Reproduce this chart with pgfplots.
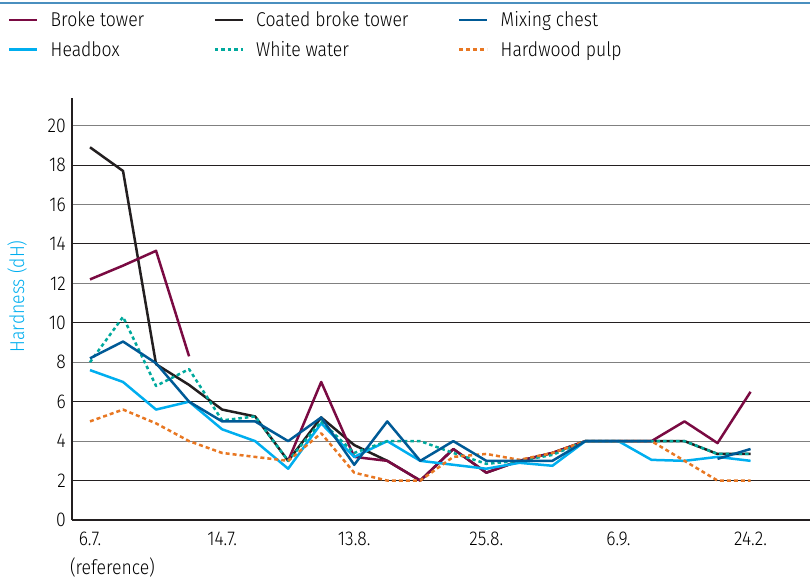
\documentclass[border=0pt]{standalone}
\usepackage{fontspec}
\setmainfont{Fira Sans}[UprightFont=* Light, FakeStretch=0.88]
\usepackage{pgfplots}
\pgfplotsset{compat=1.18}
\definecolor{broke}{HTML}{7A0A42}
\definecolor{coated}{HTML}{231F20}
\definecolor{mixing}{HTML}{005A96}
\definecolor{headbox}{HTML}{00AEEF}
\definecolor{wwater}{HTML}{00A99D}
\definecolor{hardwood}{HTML}{E87722}
\definecolor{topline}{HTML}{4A8FBF}
\definecolor{gridgray}{HTML}{808080}
\begin{document}
\begin{tikzpicture}[font=\fontsize{20bp}{24bp}\selectfont]
\useasboundingbox (0,0) rectangle (810bp,581bp);
\draw[topline, line width=1.8bp] (0,578bp) -- (810bp,578bp);
\begin{axis}[
  at={(72bp,61bp)}, anchor=south west, scale only axis,
  width=738bp, height=422bp,
  xmin=-0.545, xmax=21.8, ymin=0, ymax=21.4,
  axis x line=bottom, axis y line=left,
  axis line style={-, line width=1.2bp, color=coated},
  xtick={0,4,8,12,16,20},
  xticklabels={{6.7.\\\makebox[0pt][l]{\hspace*{-20bp}(reference)}},14.7.,13.8.,25.8.,6.9.,24.2.},
  xticklabel style={align=center, inner sep=0pt, yshift=-12bp, font=\fontsize{20bp}{29bp}\selectfont},
  ytick={0,4,8,12,16,20},
  extra y ticks={2,6,10,14,18},
  extra y tick style={grid=major, major grid style={coated, line width=1bp}},
  ymajorgrids=true,
  major grid style={gridgray, line width=1.2bp},
  yticklabel style={inner sep=0pt, xshift=-6bp},
  major tick length=0pt, tick style={draw=none},
  /pgf/number format/assume math mode=true,
  ylabel={Hardness (dH)},
  ylabel style={color=headbox, at={(axis description cs:-0.0745,0.53)}, anchor=center},
  legend columns=3,
  legend cell align=left,
  legend style={at={(axis description cs:-0.0867,1.205)}, anchor=north west,
    draw=none, fill=none, inner sep=0pt, row sep=13bp,
    nodes={inner sep=0pt},
    /tikz/every odd column/.append style={column sep=12bp}},
  legend image code/.code={\draw[#1] (0bp,0bp) -- (28bp,0bp);},
  every axis plot/.append style={line width=2.5bp, line join=round},
  unbounded coords=jump,
]
\addlegendimage{broke}
\addlegendentry{\makebox[163bp][l]{Broke tower}}
\addlegendimage{coated}
\addlegendentry{\makebox[202bp][l]{Coated broke tower}}
\addlegendimage{mixing}
\addlegendentry{Mixing chest}
\addlegendimage{headbox}
\addlegendentry{Headbox}
\addlegendimage{wwater, dash pattern=on 3.5bp off 3bp}
\addlegendentry{White water}
\addlegendimage{hardwood, dash pattern=on 4bp off 3bp}
\addlegendentry{Hardwood pulp}

% Coated broke tower
\addplot[coated, forget plot] coordinates {
(0,18.9) (1,17.7) (2,7.9) (3,6.85) (4,5.6) (5,5.25) (6,3.0) (7,5.2) (8,3.8) (9,3.0)
(10,2.0) (11,3.6) (12,2.4) (13,3.0) (14,3.4) (15,4.0) (16,4.0) (17,4.0) (18,4.0) (19,3.35) (20,3.35)};
% Broke tower
\addplot[broke, forget plot] coordinates {
(0,12.2) (1,12.9) (2,13.65) (3,8.3) (4,nan) (5,nan) (6,3.0) (7,7.0) (8,3.2) (9,3.0)
(10,2.0) (11,3.6) (12,2.4) (13,3.0) (14,3.4) (15,4.0) (16,4.0) (17,4.0) (18,5.0) (19,3.9) (20,6.5)};
% Headbox
\addplot[headbox, forget plot] coordinates {
(0,7.6) (1,7.0) (2,5.6) (3,6.0) (4,4.6) (5,4.0) (6,2.6) (7,4.9) (8,3.2) (9,4.0)
(10,3.0) (11,2.8) (12,2.6) (13,2.9) (14,2.75) (15,4.0) (16,4.0) (17,3.05) (18,3.0) (19,3.2) (20,3.0)};
% White water
\addplot[wwater, dash pattern=on 3.5bp off 3bp, forget plot] coordinates {
(0,8.0) (1,10.3) (2,6.8) (3,7.65) (4,5.05) (5,5.25) (6,3.0) (7,5.0) (8,3.4) (9,4.0)
(10,4.0) (11,3.4) (12,2.85) (13,3.0) (14,3.3) (15,4.0) (16,4.0) (17,4.0) (18,4.0) (19,3.35) (20,3.35)};
% Hardwood pulp
\addplot[hardwood, dash pattern=on 4bp off 3bp, forget plot] coordinates {
(0,5.0) (1,5.6) (2,4.9) (3,4.0) (4,3.4) (5,3.2) (6,3.0) (7,4.4) (8,2.4) (9,2.0)
(10,2.0) (11,3.2) (12,3.35) (13,3.05) (14,3.4) (15,4.0) (16,4.0) (17,4.0) (18,3.0) (19,2.0) (20,2.0)};
% Mixing chest
\addplot[mixing, forget plot] coordinates {
(0,8.2) (1,9.05) (2,7.95) (3,6.0) (4,5.0) (5,5.0) (6,4.0) (7,5.2) (8,2.8) (9,5.0)
(10,3.0) (11,4.0) (12,3.0) (13,3.0) (14,3.0) (15,4.0) (16,4.0) (17,4.0) (18,nan) (19,3.1) (20,3.6)};
\end{axis}
\end{tikzpicture}
\end{document}
